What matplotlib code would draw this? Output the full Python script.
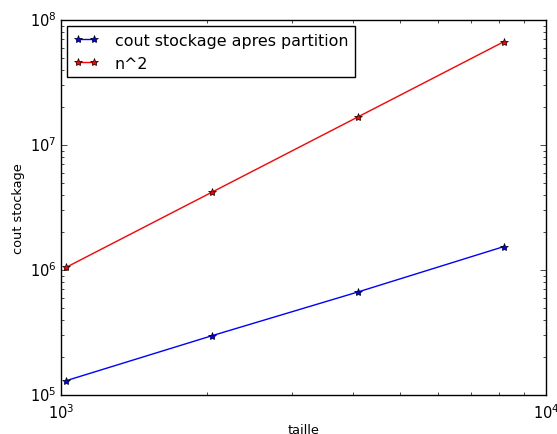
import matplotlib
matplotlib.use("Agg")
import matplotlib.pyplot as plt

# problem sizes and measured storage costs
taille = [1024, 2048, 4096, 8192]
cout_partition = [1.30e5, 2.98e5, 6.67e5, 1.54e6]
n_carre = [n ** 2 for n in taille]

plt.style.use("classic")
fig = plt.figure(figsize=(5.57, 4.35), dpi=100)
fig.patch.set_facecolor("white")
ax = fig.add_axes([0.1095, 0.0897, 0.8707, 0.862])

ax.plot(taille, cout_partition, "b*-", label="cout stockage apres partition",
        markeredgecolor="k", markeredgewidth=0.5, markersize=6)
ax.plot(taille, n_carre, "r*-", label="n^2",
        markeredgecolor="k", markeredgewidth=0.5, markersize=6)

ax.set_xscale("log")
ax.set_yscale("log")
ax.set_xlim(1e3, 1e4)
ax.set_ylim(1e5, 1e8)
ax.set_xlabel("taille", fontsize=9.3, labelpad=2)
ax.set_ylabel("cout stockage", fontsize=9.3, labelpad=4)
ax.tick_params(labelsize=10.5)
ax.tick_params(axis="x", pad=5)
ax.tick_params(axis="y", pad=3)

ax.legend(loc="upper left", numpoints=2, fontsize=11.4,
          handlelength=1.6, handletextpad=1.0, borderaxespad=0.4)

fig.savefig("out.png", dpi=100, facecolor="white")
